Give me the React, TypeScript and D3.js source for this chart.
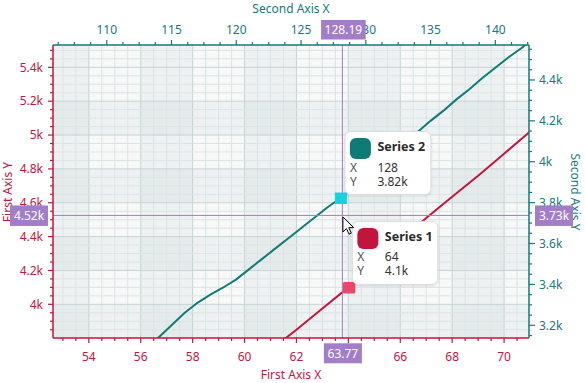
import React from "react";
import * as d3 from "d3";

const series1X = [60, 61, 62, 63, 64, 65, 66, 67, 68, 69, 70, 71, 72];
const series1Y = [3605, 3730, 3850, 3975, 4100, 4240, 4375, 4510, 4635, 4760, 4890, 5020, 5150];
const series2X = [112, 113, 114, 115, 116, 117, 118, 119, 120, 121, 122, 123, 124, 125, 126, 127, 128, 129, 130, 131, 132, 133, 134, 135, 136, 137, 138, 139, 140, 141, 142, 143, 144];
const series2Y = [3040, 3090, 3140, 3200, 3260, 3310, 3350, 3385, 3425, 3475, 3525, 3575, 3625, 3675, 3725, 3775, 3820, 3870, 3925, 3985, 4040, 4095, 4145, 4200, 4250, 4305, 4355, 4410, 4460, 4510, 4555, 4605, 4655];

const x1Ticks = [54, 56, 58, 60, 62, 64, 66, 68, 70];
const x2Ticks = [110, 115, 120, 125, 130, 135, 140];
const y1Ticks = [4000, 4200, 4400, 4600, 4800, 5000, 5200, 5400];
const y2Ticks = [3200, 3400, 3600, 3800, 4000, 4200, 4400];

const hover1X = 64;
const hover2X = 128;
const crossX1 = 63.77;
const crossY1 = 4525;

const TEAL = "#0f7b78";
const RED = "#c2153c";
const TEAL_TXT = "#16797f";
const RED_TXT = "#c0183f";
const PURPLE = "#a27ec8";
const FONT = "'Noto Sans', 'Open Sans', sans-serif";

const L = 53, R = 529, T = 45, B = 338;

const fmtK = (v: number) => `${+(v / 1000).toFixed(2)}k`;
const truncK = (v: number) => `${(Math.floor(v / 10) / 100).toFixed(2)}k`;

export default function App() {
  const x1 = d3.scaleLinear().domain([52.62, 70.96]).range([L, R]);
  const x2 = d3.scaleLinear().domain([105.85, 142.6]).range([L, R]);
  const y1 = d3.scaleLinear().domain([3801, 5532]).range([B, T]);
  const y2 = d3.scaleLinear().domain([3138, 4571]).range([B, T]);

  const inD = (s: any) => (v: number) => {
    const [a, b] = s.domain();
    return v >= Math.min(a, b) - 1e-9 && v <= Math.max(a, b) + 1e-9;
  };
  const x1Minor = d3.range(52.5, 71.01, 0.5).filter(inD(x1));
  const x2Minor = d3.range(105, 143.01, 1.25).filter(inD(x2));
  const y1Minor = d3.range(3800, 5550, 50).filter(inD(y1));
  const y2Minor = d3.range(3100, 4600, 50).filter(inD(y2));

  const line1 = d3.line<number>().x((_, i) => x1(series1X[i])).y((d) => y1(d));
  const line2 = d3.line<number>().x((_, i) => x2(series2X[i])).y((d) => y2(d));

  const i1 = series1X.indexOf(hover1X);
  const i2 = series2X.indexOf(hover2X);
  const m1x = x1(series1X[i1]), m1y = y1(series1Y[i1]);
  const m2x = x2(series2X[i2]), m2y = y2(series2Y[i2]);

  const cx = x1(crossX1);
  const cy = y1(crossY1);
  const labX1 = crossX1.toFixed(2);
  const labX2 = x2.invert(cx).toFixed(2);
  const labY1 = truncK(crossY1);
  const labY2 = truncK(y2.invert(cy));
  const bw = (s: string) => s.length * 6.6 + 5;

  const colBands = x1Ticks.map((t, i) => ({ a: t - 2, b: t, dark: i % 2 === 0 }));
  const rowBands = y1Ticks.map((t, i) => ({ a: t - 200, b: t, dark: i % 2 === 0 }));

  const tooltip = (bx: number, by: number, w: number, color: string, name: string, xv: string, yv: string) => (
    <g transform={`translate(${bx},${by})`}>
      <rect x={0} y={0} width={w} height={63} rx={6} fill="#fff" stroke="#dcdcdc" filter="url(#shadow)" />
      <rect x={5} y={6.5} width={21} height={21} rx={6} fill={color} />
      <text x={32.5} y={19.5} fontSize={12.5} fontWeight="bold" fill="#2a2a2a">{name}</text>
      <text x={5} y={40} fontSize={12} fill="#555">X</text>
      <text x={32.5} y={40} fontSize={12} fill="#333">{xv}</text>
      <text x={5} y={54} fontSize={12} fill="#555">Y</text>
      <text x={32.5} y={54} fontSize={12} fill="#333">{yv}</text>
    </g>
  );

  return (
    <svg width={585} height={383} style={{ position: "absolute", left: 0, top: 0 }} fontFamily={FONT}>
      <defs>
        <clipPath id="plot"><rect x={L} y={T} width={R - L} height={B - T} /></clipPath>
        <filter id="shadow" x="-20%" y="-20%" width="140%" height="140%">
          <feDropShadow dx={0} dy={1} stdDeviation={1.2} floodColor="#000" floodOpacity={0.12} />
        </filter>
      </defs>
      <rect x={0} y={0} width={585} height={383} fill="#fff" />
      <g clipPath="url(#plot)">
        <rect x={L} y={T} width={R - L} height={B - T} fill="#f7f8f8" />
        {colBands.filter((b) => b.dark).map((b, i) => (
          <rect key={"c" + i} x={x1(b.a)} y={T} width={x1(b.b) - x1(b.a)} height={B - T} fill="#c8d6d6" opacity={0.2} />
        ))}
        {rowBands.filter((b) => b.dark).map((b, i) => (
          <rect key={"r" + i} x={L} y={y1(b.b)} width={R - L} height={y1(b.a) - y1(b.b)} fill="#c8d6d6" opacity={0.2} />
        ))}
        {x1Minor.map((v, i) => (
          <line key={"gx" + i} x1={x1(v)} x2={x1(v)} y1={T} y2={B} stroke={v % 2 === 0 ? "#c6d4d4" : "#dbe4e4"} strokeWidth={1} />
        ))}
        {y1Minor.map((v, i) => (
          <line key={"gy" + i} y1={y1(v)} y2={y1(v)} x1={L} x2={R} stroke={v % 200 === 0 ? "#c6d4d4" : "#dbe4e4"} strokeWidth={1} />
        ))}
        <path d={line2(series2Y) || ""} fill="none" stroke={TEAL} strokeWidth={2} />
        <path d={line1(series1Y) || ""} fill="none" stroke={RED} strokeWidth={2} />
        <line x1={cx} x2={cx} y1={T} y2={B} stroke={PURPLE} strokeWidth={1} />
        <line x1={L} x2={R} y1={cy} y2={cy} stroke={PURPLE} strokeWidth={1} />
        <rect x={m2x - 5} y={m2y - 6} width={12} height={11.5} fill="#16d2dc" />
        <rect x={m1x - 5.5} y={m1y - 5.5} width={12.5} height={11.5} rx={1.5} fill="#e8496b" />
      </g>

      {/* bottom axis (first X) */}
      <line x1={L} x2={R} y1={B} y2={B} stroke={RED} strokeWidth={1.5} />
      {x1Minor.map((v, i) => (
        <line key={"bt" + i} x1={x1(v)} x2={x1(v)} y1={B} y2={B + (x1Ticks.includes(v) ? 5 : 3)} stroke={RED} strokeWidth={1.2} />
      ))}
      {x1Ticks.map((v) => (
        <text key={"bl" + v} x={x1(v)} y={361} textAnchor="middle" fontSize={12} fill={RED_TXT}>{v}</text>
      ))}
      <text x={291} y={379} textAnchor="middle" fontSize={12} fill={RED_TXT}>First Axis X</text>

      {/* top axis (second X) */}
      <line x1={L} x2={R} y1={T} y2={T} stroke={TEAL} strokeWidth={1.5} />
      {x2Minor.map((v, i) => (
        <line key={"tt" + i} x1={x2(v)} x2={x2(v)} y1={T} y2={T - (x2Ticks.includes(v) ? 5 : 3)} stroke={TEAL} strokeWidth={1.2} />
      ))}
      {x2Ticks.map((v) => (
        <text key={"tl" + v} x={x2(v)} y={33.5} textAnchor="middle" fontSize={12} fill={TEAL_TXT}>{v}</text>
      ))}
      <text x={291} y={13} textAnchor="middle" fontSize={12} fill={TEAL_TXT}>Second Axis X</text>

      {/* left axis (first Y) */}
      <line x1={L} x2={L} y1={T} y2={B} stroke={RED} strokeWidth={1.5} />
      {y1Minor.map((v, i) => (
        <line key={"lt" + i} x1={L} x2={L - (y1Ticks.includes(v) ? 5 : 3)} y1={y1(v)} y2={y1(v)} stroke={RED} strokeWidth={1.2} />
      ))}
      {y1Ticks.map((v) => (
        <text key={"ll" + v} x={43} y={y1(v) + 4.2} textAnchor="end" fontSize={12} fill={RED_TXT}>{fmtK(v)}</text>
      ))}
      <text transform={`translate(12,192) rotate(-90)`} textAnchor="middle" fontSize={12} fill={RED_TXT}>First Axis Y</text>

      {/* right axis (second Y) */}
      <line x1={R} x2={R} y1={T} y2={B} stroke={TEAL} strokeWidth={1.5} />
      {y2Minor.map((v, i) => (
        <line key={"rt" + i} x1={R} x2={R + (y2Ticks.includes(v) ? 6 : 3)} y1={y2(v)} y2={y2(v)} stroke={TEAL} strokeWidth={1.2} />
      ))}
      {y2Ticks.map((v) => (
        <text key={"rl" + v} x={539} y={y2(v) + 4.2} fontSize={12} fill={TEAL_TXT}>{fmtK(v)}</text>
      ))}
      <text transform={`translate(571,192) rotate(90)`} textAnchor="middle" fontSize={12} fill={TEAL_TXT}>Second Axis Y</text>

      {/* crosshair labels */}
      <g fontSize={12} fill="#fff" textAnchor="middle">
        <rect x={48 - bw(labY1)} y={cy - 10} width={bw(labY1)} height={20.5} fill={PURPLE} />
        <text x={48 - bw(labY1) / 2} y={cy + 4.3}>{labY1}</text>
        <rect x={535} y={cy - 10} width={bw(labY2)} height={20.5} fill={PURPLE} />
        <text x={535 + bw(labY2) / 2} y={cy + 4.3}>{labY2}</text>
        <rect x={cx + 1 - bw(labX2) / 2} y={20} width={bw(labX2)} height={19.5} fill={PURPLE} />
        <text x={cx + 1} y={34}>{labX2}</text>
        <rect x={cx + 0.5 - bw(labX1) / 2} y={343.3} width={bw(labX1)} height={20} fill={PURPLE} />
        <text x={cx + 0.5} y={357.5}>{labX1}</text>
      </g>

      {tooltip(m2x + 5, m2y - 67, 86, TEAL, "Series 2", String(series2X[i2]), fmtK(series2Y[i2]))}
      {tooltip(m1x + 4, m1y - 66, 85.5, RED, "Series 1", String(series1X[i1]), fmtK(series1Y[i1]))}

      {/* mouse cursor */}
      <path
        transform={`translate(${cx + 0.5},${cy + 1.5})`}
        d="M0,0 L0,15 L3.6,11.6 L6.2,17.2 L8.4,16.2 L5.9,10.7 L10.8,10.7 Z"
        fill="#fff"
        stroke="#000"
        strokeWidth={1}
        strokeLinejoin="round"
      />
    </svg>
  );
}
